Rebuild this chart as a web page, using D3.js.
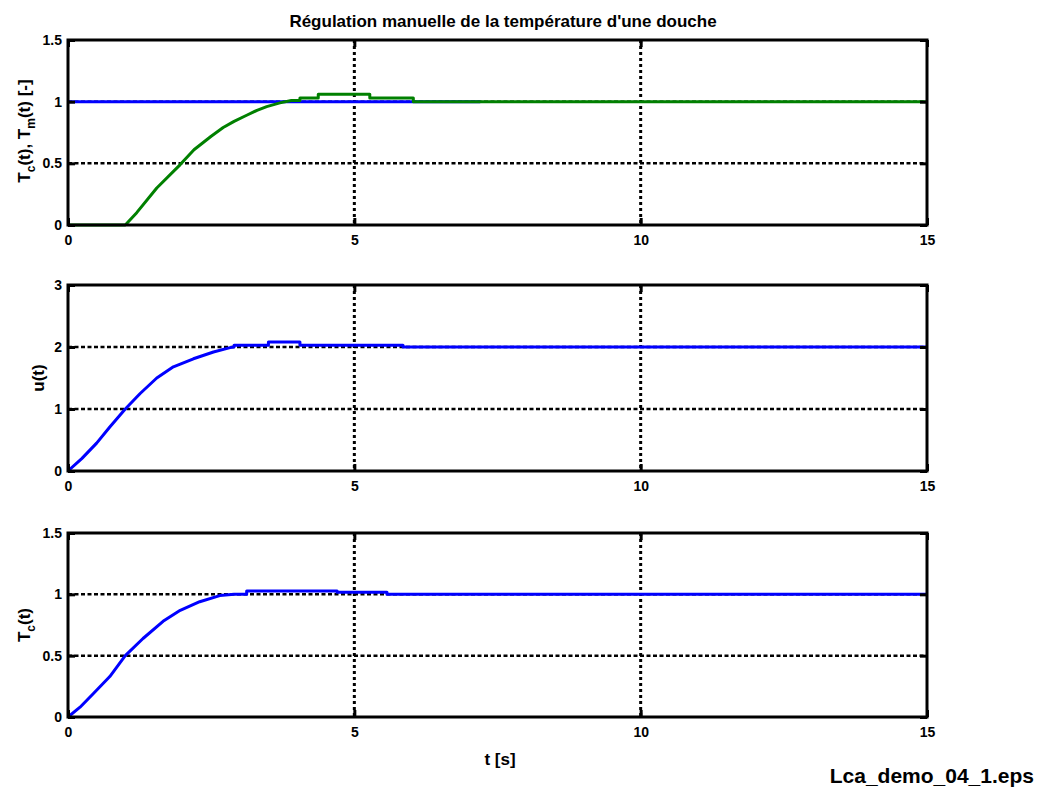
<!DOCTYPE html>
<html>
<head>
<meta charset="utf-8">
<script src="https://cdn.jsdelivr.net/npm/d3@7"></script>
<style>
  body { margin: 0; background: #fff; }
  svg { display: block; }
  text { font-family: "Liberation Sans", Arial, sans-serif; font-weight: bold; fill: #000; }
</style>
</head>
<body>
<div id="chart"></div>
<script>
// Data (time in seconds)
const xTicks = [0, 5, 10, 15];

// panel 1: setpoint (blue) and measured temperature T_m (green)
const setpointTime = [0, 7.2];
const setpointValue = [1, 1];
const tmTime = [0, 1.0, 1.2, 1.55, 1.96, 2.2, 2.5, 2.71, 2.9, 3.12, 3.3, 3.47, 3.7, 3.9, 4.05, 4.05, 4.37, 4.37, 5.27, 5.27, 6.03, 6.03, 15];
const tmValue = [0, 0, 0.1, 0.30, 0.49, 0.61, 0.72, 0.79, 0.84, 0.89, 0.93, 0.96, 0.99, 1.01, 1.01, 1.03, 1.03, 1.06, 1.06, 1.03, 1.03, 1.0, 1.0];
const panel1Ticks = [0, 0.5, 1, 1.5];

// panel 2: command u(t)
const uTime = [0, 0.24, 0.5, 0.73, 1.0, 1.26, 1.55, 1.84, 2.19, 2.54, 2.83, 2.9, 2.9, 3.5, 3.5, 4.05, 4.05, 5.85, 5.85, 15];
const uValue = [0, 0.2, 0.45, 0.71, 1.0, 1.25, 1.5, 1.68, 1.81, 1.92, 1.99, 2.0, 2.03, 2.03, 2.08, 2.08, 2.03, 2.03, 2.0, 2.0];
const panel2Ticks = [0, 1, 2, 3];

// panel 3: shower temperature T_c(t)
const tcTime = [0, 0.21, 0.44, 0.73, 1.0, 1.31, 1.66, 1.96, 2.3, 2.65, 2.9, 3.12, 3.12, 4.7, 4.7, 5.57, 5.57, 15];
const tcValue = [0, 0.08, 0.19, 0.33, 0.5, 0.64, 0.78, 0.87, 0.94, 0.99, 1.0, 1.0, 1.027, 1.027, 1.018, 1.018, 1.0, 1.0];
const panel3Ticks = [0, 0.5, 1, 1.5];

const zip = (ts, vs) => ts.map((t, i) => ({t, v: vs[i]}));

const width = 1040, height = 787;
const left = 68, right = 927;

const svg = d3.select("#chart").append("svg")
    .attr("width", width).attr("height", height);

const x = d3.scaleLinear().domain([0, 15]).range([left, right]);

const panels = [
    {top: 40, bottom: 225, ticks: panel1Ticks,
     series: [{data: zip(setpointTime, setpointValue), color: "#0000ff"},
              {data: zip(tmTime, tmValue), color: "#008000"}]},
    {top: 285, bottom: 471, ticks: panel2Ticks,
     series: [{data: zip(uTime, uValue), color: "#0000ff"}]},
    {top: 533, bottom: 717, ticks: panel3Ticks,
     series: [{data: zip(tcTime, tcValue), color: "#0000ff"}]}
];

panels.forEach((p, i) => {
    const y = d3.scaleLinear().domain(d3.extent(p.ticks)).range([p.bottom, p.top]);
    const g = svg.append("g");
    const innerT = p.ticks.slice(1, -1);

    // grid
    g.selectAll(".hgrid").data(innerT).join("line")
        .attr("x1", left).attr("x2", right)
        .attr("y1", d => y(d)).attr("y2", d => y(d))
        .attr("stroke", "#000").attr("stroke-width", 2.5)
        .attr("stroke-dasharray", "4,2.5");
    g.selectAll(".vgrid").data(xTicks.slice(1, -1)).join("line")
        .attr("x1", d => x(d)).attr("x2", d => x(d))
        .attr("y1", p.top).attr("y2", p.bottom)
        .attr("stroke", "#000").attr("stroke-width", 3)
        .attr("stroke-dasharray", "3,3");

    // series
    const clipId = `clip${i}`;
    svg.append("clipPath").attr("id", clipId).append("rect")
        .attr("x", left).attr("y", p.top - 4)
        .attr("width", right - left).attr("height", p.bottom - p.top + 8);
    const line = d3.line().x(d => x(d.t)).y(d => y(d.v));
    p.series.forEach(s => {
        g.append("path")
            .datum(s.data)
            .attr("clip-path", `url(#${clipId})`)
            .attr("fill", "none")
            .attr("stroke", s.color)
            .attr("stroke-width", 3)
            .attr("stroke-linejoin", "round")
            .attr("d", line);
    });

    // axes (ticks pointing inward, mirrored)
    const fmt = d3.format("~g");
    const axB = g.append("g").attr("transform", `translate(0,${p.bottom})`)
        .call(d3.axisBottom(x).tickValues(xTicks).tickSize(-7).tickPadding(10).tickFormat(fmt));
    const axT = g.append("g").attr("transform", `translate(0,${p.top})`)
        .call(d3.axisTop(x).tickValues(xTicks).tickSize(-7).tickFormat(""));
    const axL = g.append("g").attr("transform", `translate(${left},0)`)
        .call(d3.axisLeft(y).tickValues(p.ticks).tickSize(-7).tickPadding(6).tickFormat(fmt));
    const axR = g.append("g").attr("transform", `translate(${right},0)`)
        .call(d3.axisRight(y).tickValues(p.ticks).tickSize(-7).tickFormat(""));
    [axB, axT, axL, axR].forEach(a => {
        a.select(".domain").remove();
        a.selectAll("line").attr("stroke", "#000").attr("stroke-width", 3);
        a.selectAll("text").attr("font-size", 14).attr("font-family", null).attr("fill", "#000");
    });

    g.append("rect")
        .attr("x", left).attr("y", p.top)
        .attr("width", right - left).attr("height", p.bottom - p.top)
        .attr("fill", "none").attr("stroke", "#000").attr("stroke-width", 3);
});

// title and labels
svg.append("text")
    .attr("x", 503).attr("y", 27)
    .attr("text-anchor", "middle").attr("font-size", 17)
    .text("Régulation manuelle de la température d'une douche");

function yLabel(cx, cy, parts) {
    const t = svg.append("text")
        .attr("transform", `translate(${cx},${cy}) rotate(-90)`)
        .attr("text-anchor", "middle").attr("font-size", 17);
    parts.forEach(([txt, sub]) => {
        t.append("tspan")
            .attr("font-size", sub === 1 ? 12 : 17)
            .attr("dy", sub === 1 ? 5 : sub === -1 ? -5 : 0)
            .text(txt);
    });
}
yLabel(30, 131, [["T", 0], ["c", 1], ["(t), T", -1], ["m", 1], ["(t) [-]", -1]]);
yLabel(44, 378, [["u(t)", 0]]);
yLabel(30, 625, [["T", 0], ["c", 1], ["(t)", -1]]);

svg.append("text")
    .attr("x", 500).attr("y", 765)
    .attr("text-anchor", "middle").attr("font-size", 17)
    .text("t [s]");

svg.append("text")
    .attr("x", 1034).attr("y", 783)
    .attr("text-anchor", "end").attr("font-size", 21)
    .text("Lca_demo_04_1.eps");
</script>
</body>
</html>
